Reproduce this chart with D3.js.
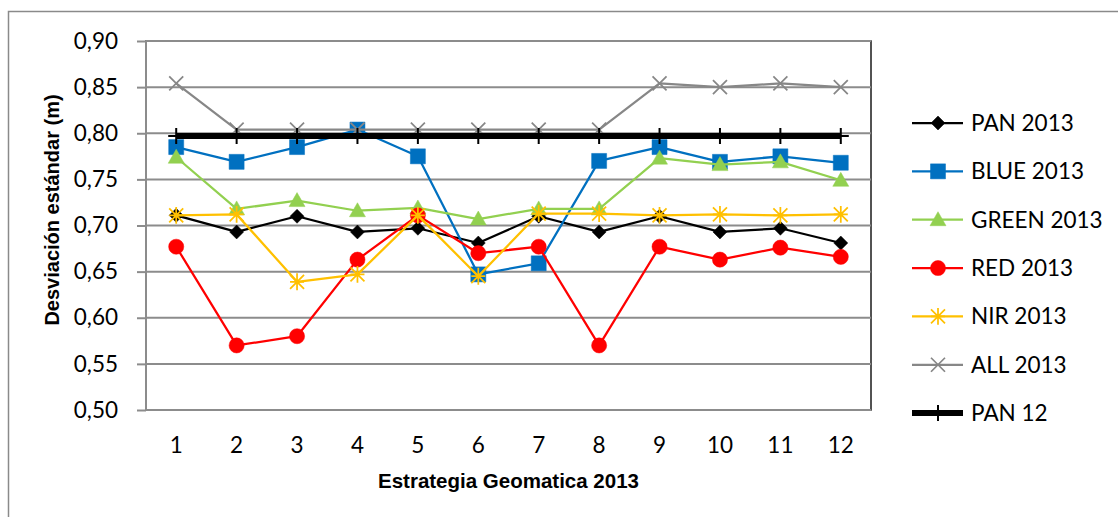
<!DOCTYPE html>
<html>
<head>
<meta charset="utf-8">
<script src="https://cdn.jsdelivr.net/npm/d3@7"></script>
<style>
  html, body { margin: 0; padding: 0; background: #fff; }
  svg { display: block; }
</style>
</head>
<body>
<svg id="chart" width="1118" height="517"></svg>
<script>
// ---- data ----
const categories = ["1","2","3","4","5","6","7","8","9","10","11","12"];
const yTicks = [0.50,0.55,0.60,0.65,0.70,0.75,0.80,0.85,0.90];
const pan2013   = [0.711,0.693,0.710,0.693,0.697,0.681,0.710,0.693,0.710,0.693,0.697,0.681];
const blue2013  = [0.785,0.769,0.785,0.804,0.775,0.647,0.659,0.770,0.785,0.769,0.775,0.768];
const green2013 = [0.774,0.718,0.727,0.716,0.719,0.707,0.718,0.718,0.773,0.766,0.769,0.749];
const red2013   = [0.677,0.570,0.580,0.663,0.711,0.670,0.677,0.570,0.677,0.663,0.676,0.666];
const nir2013   = [0.711,0.712,0.639,0.647,0.711,0.645,0.713,0.713,0.711,0.712,0.711,0.712];
const all2013   = [0.854,0.804,0.804,0.804,0.804,0.804,0.804,0.804,0.854,0.850,0.854,0.850];
const pan12     = [0.797,0.797,0.797,0.797,0.797,0.797,0.797,0.797,0.797,0.797,0.797,0.797];
const seriesNames = ["PAN 2013","BLUE 2013","GREEN 2013","RED 2013","NIR 2013","ALL 2013","PAN 12"];
const xTitle = "Estrategia Geomatica 2013";
const yTitle = "Desviación estándar (m)";

const series = [
  {name: seriesNames[0], values: pan2013,   color: "#000000", marker: "diamond", width: 2.25},
  {name: seriesNames[1], values: blue2013,  color: "#0070C0", marker: "square",  width: 2.25},
  {name: seriesNames[2], values: green2013, color: "#92D050", marker: "triangle",width: 2.25},
  {name: seriesNames[3], values: red2013,   color: "#FF0000", marker: "circle",  width: 2.25},
  {name: seriesNames[4], values: nir2013,   color: "#FFC000", marker: "star",    width: 2.25},
  {name: seriesNames[5], values: all2013,   color: "#878787", marker: "x",       width: 2.25},
  {name: seriesNames[6], values: pan12,     color: "#000000", marker: "plus",    width: 6}
];

const svg = d3.select("#chart");
const plot = {left: 146, right: 871, top: 41, bottom: 410};

// outer chart border (cropped in reference)
svg.append("rect").attr("x", 8.5).attr("y", 11.5).attr("width", 1300).attr("height", 700)
  .attr("fill", "none").attr("stroke", "#8a8a8a").attr("stroke-width", 1.5);

const x = d3.scaleBand().domain(categories).range([plot.left, plot.right]).padding(0);
const y = d3.scaleLinear().domain([0.5, 0.9]).range([plot.bottom, plot.top]);
const cx = c => x(c) + x.bandwidth() / 2;

// plot border
svg.append("rect").attr("x", plot.left).attr("y", plot.top)
  .attr("width", plot.right - plot.left).attr("height", plot.bottom - plot.top)
  .attr("fill", "none").attr("stroke", "#1a1a1a").attr("stroke-width", 1.5);

// gridlines
svg.append("g").selectAll("line").data(yTicks.slice(1)).join("line")
  .attr("x1", plot.left).attr("x2", plot.right)
  .attr("y1", d => y(d)).attr("y2", d => y(d))
  .attr("stroke", "#8c8c8c").attr("stroke-width", 2);

// y axis
const yAxis = d3.axisLeft(y).tickValues(yTicks).tickSize(9).tickPadding(19)
  .tickFormat(d => d3.format(".2f")(d).replace(".", ","));
const gy = svg.append("g").attr("transform", `translate(${plot.left},0)`).call(yAxis);
gy.select(".domain").attr("stroke", "#8c8c8c").attr("stroke-width", 2).attr("d", `M0,${plot.top}V${plot.bottom}`);
gy.selectAll(".tick line").attr("stroke", "#8c8c8c").attr("stroke-width", 2);
gy.selectAll(".tick text").attr("font-family", "Lato, 'Open Sans', sans-serif")
  .attr("font-size", "22.5px").attr("fill", "#000");

// x axis
const xAxis = d3.axisBottom(x).tickSize(0).tickPadding(27);
const gx = svg.append("g").attr("transform", `translate(0,${plot.bottom})`).call(xAxis);
gx.select(".domain").attr("stroke", "#8c8c8c").attr("stroke-width", 2).attr("d", `M${plot.left},0H${plot.right}`);
gx.selectAll(".tick text").attr("font-family", "Lato, 'Open Sans', sans-serif")
  .attr("font-size", "22.5px").attr("fill", "#000");

// axis titles
svg.append("text").attr("x", (plot.left + plot.right) / 2).attr("y", 488)
  .attr("text-anchor", "middle").attr("font-family", "'Liberation Sans', Arial, sans-serif")
  .attr("font-weight", "bold").attr("font-size", "20.5px").text(xTitle);
svg.append("text").attr("transform", "translate(59,210) rotate(-90)")
  .attr("text-anchor", "middle").attr("font-family", "'Liberation Sans', Arial, sans-serif")
  .attr("font-weight", "bold").attr("font-size", "20px").text(yTitle);

// marker path generators
function markerPath(type) {
  switch (type) {
    case "diamond": { const r = 7; return `M0,${-r}L${r},0L0,${r}L${-r},0Z`; }
    case "square":  { const r = 7.5; return `M${-r},${-r}H${r}V${r}H${-r}Z`; }
    case "triangle":{ const r = 8; return `M0,${-r}L${r},${r*0.75}L${-r},${r*0.75}Z`; }
    case "circle":  return d3.symbol(d3.symbolCircle, 180)();
    case "star":    { const r = 7; return `M${-r},${-r}L${r},${r}M${-r},${r}L${r},${-r}M0,${-r*1.2}V${r*1.2}M${-r},0H${r}`; }
    case "x":       { const r = 7; return `M${-r},${-r}L${r},${r}M${-r},${r}L${r},${-r}`; }
    case "plus":    { const r = 8; return `M0,${-r}V${r}M${-r},0H${r}`; }
  }
}
const filled = t => ["diamond","square","triangle","circle"].includes(t);

const line = d3.line().x((d, i) => cx(categories[i])).y(d => y(d));

series.forEach(s => {
  const g = svg.append("g");
  g.append("path").attr("d", line(s.values)).attr("fill", "none")
    .attr("stroke", s.color).attr("stroke-width", s.width).attr("stroke-linejoin", "round");
  g.selectAll("path.m").data(s.values).join("path").attr("class", "m")
    .attr("transform", (d, i) => `translate(${cx(categories[i])},${y(d)})`)
    .attr("d", markerPath(s.marker))
    .attr("fill", filled(s.marker) ? s.color : "none")
    .attr("stroke", s.color)
    .attr("stroke-width", filled(s.marker) ? 0.5 : (s.marker === "plus" ? 2 : 1.75));
});

// legend
const legY0 = 123, legDy = 48.35;
series.forEach((s, i) => {
  const ly = legY0 + i * legDy;
  const g = svg.append("g").attr("transform", `translate(0,${ly})`);
  g.append("line").attr("x1", 912).attr("x2", 963).attr("y1", 0).attr("y2", 0)
    .attr("stroke", s.color).attr("stroke-width", s.width);
  g.append("path").attr("transform", "translate(938,0)")
    .attr("d", markerPath(s.marker))
    .attr("fill", filled(s.marker) ? s.color : "none")
    .attr("stroke", s.color)
    .attr("stroke-width", filled(s.marker) ? 0.5 : (s.marker === "plus" ? 2 : 1.75));
  g.append("text").attr("x", 971).attr("y", 0).attr("dy", "0.35em")
    .attr("font-family", "Lato, 'Open Sans', sans-serif").attr("font-size", "22.5px")
    .attr("fill", "#000").text(s.name);
});
</script>
</body>
</html>
